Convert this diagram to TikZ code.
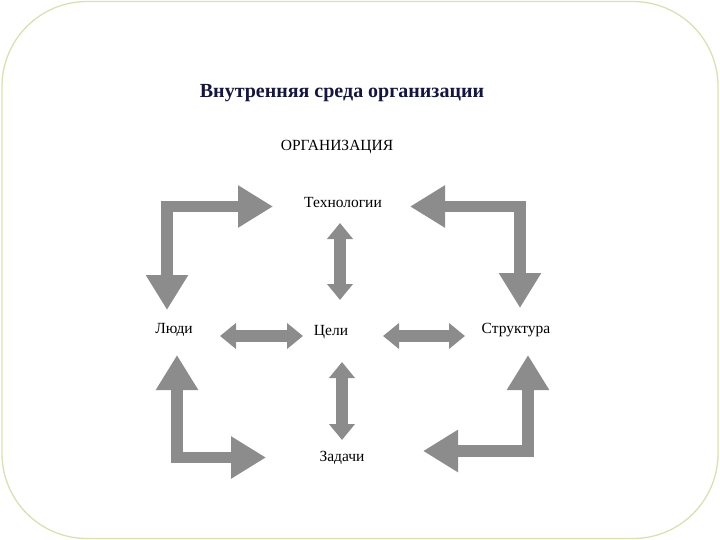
\documentclass[tikz,border=0pt]{standalone}
\usepackage{fontspec}
\setmainfont{Liberation Serif}
\usetikzlibrary{arrows.meta}
\definecolor{arrowgray}{RGB}{140,140,140}
\definecolor{framecol}{RGB}{222,222,180}
\definecolor{titlecol}{RGB}{20,22,60}
\tikzset{
  lbl/.style={font=\fontsize{15.5}{18}\selectfont, inner sep=0pt, anchor=center},
  blockarrow/.style={draw=arrowgray, line width=11.5pt, {Triangle[length=35pt,width=40pt]}-{Triangle[length=35pt,width=40pt]}},
  dblarrow/.style={draw=arrowgray, line width=12pt, {Triangle[length=16pt,width=25pt]}-{Triangle[length=16pt,width=25pt]}}
}
\begin{document}
\begin{tikzpicture}[x=1pt,y=-1pt]
\useasboundingbox (0,0) rectangle (720,540);
\draw[framecol, line width=1.3pt, rounded corners=85pt] (2,1.5) rectangle (718,538.5);

\node[font=\fontsize{20}{24}\selectfont\bfseries, text=titlecol, inner sep=0pt] (title) at (342,93) {Внутренняя среда организации};
\node[lbl] (org) at (337,147) {ОРГАНИЗАЦИЯ};
\node[lbl] (tech) at (343,203) {Технологии};
\node[lbl] (people) at (174,330) {Люди};
\node[lbl] (goals) at (331,332) {Цели};
\node[lbl] (struct) at (516,330) {Структура};
\node[lbl] (tasks) at (342,458) {Задачи};

% top-left L arrow
\coordinate (tlA) at (167,310);
\coordinate (tlB) at (273,206.5);
\draw[blockarrow] (tlA) |- (tlB);
% top-right L arrow
\coordinate (trA) at (410,206.5);
\coordinate (trB) at (520,308);
\draw[blockarrow] (trA) -| (trB);
% bottom-left L arrow
\coordinate (blA) at (177,355);
\coordinate (blB) at (266,457.5);
\draw[blockarrow] (blA) |- (blB);
% bottom-right L arrow
\coordinate (brA) at (528,355);
\coordinate (brB) at (423,451);
\draw[blockarrow] (brA) |- (brB);

% double arrows
\coordinate (v1a) at (340,223);
\coordinate (v1b) at (340,300);
\draw[dblarrow] (v1a) -- (v1b);
\coordinate (v2a) at (342,362);
\coordinate (v2b) at (342,440);
\draw[dblarrow] (v2a) -- (v2b);
\coordinate (h1a) at (220,336);
\coordinate (h1b) at (303,336);
\draw[dblarrow] (h1a) -- (h1b);
\coordinate (h2a) at (383,336);
\coordinate (h2b) at (465,336);
\draw[dblarrow] (h2a) -- (h2b);
\end{tikzpicture}
\end{document}
